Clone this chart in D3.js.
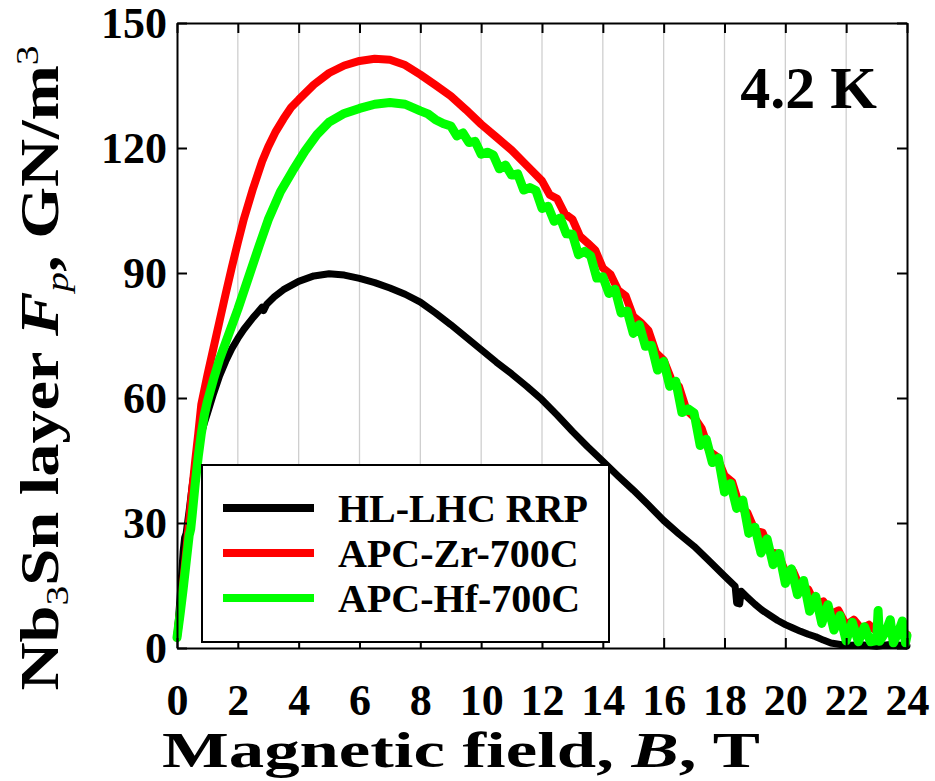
<!DOCTYPE html>
<html>
<head>
<meta charset="utf-8">
<script src="https://cdn.jsdelivr.net/npm/d3@7"></script>
<style>
  html, body { margin: 0; padding: 0; background: #fff; }
  svg { display: block; }
  text { font-family: "Liberation Serif", "Times New Roman", serif; font-weight: bold; fill: #000; }
</style>
</head>
<body>
<svg id="chart" width="935" height="781"></svg>
<script>
// Pinning-force curves at 4.2 K: field B (T) and layer pinning force Fp (GN/m^3)
const rrpField = [0, 0.1, 0.2, 0.25, 0.3, 0.4, 0.5, 0.6, 0.7, 0.8, 0.9, 1.0, 1.2, 1.4, 1.6, 1.8, 2.0, 2.2, 2.5, 2.8, 2.85, 2.95, 3.2, 3.5, 4.0, 4.5, 5.0, 5.5, 6.0, 6.5, 7.0, 7.5, 8.0, 8.5, 9.0, 9.5, 10.0, 10.5, 11.0, 11.5, 12.0, 12.5, 13.0, 13.5, 14.0, 14.5, 15.0, 15.5, 16.0, 16.5, 17.0, 17.5, 18.0, 18.35, 18.4, 18.5, 18.55, 18.75, 19.0, 19.25, 19.5, 19.75, 20.0, 20.25, 20.5, 20.75, 21.0, 21.25, 21.5, 22.0, 22.5, 23.0, 23.5, 24.0];
const rrpFp = [2.5, 12, 23, 26.5, 27.5, 33, 39, 44, 48, 51.5, 54, 56.3, 61, 65.3, 68.8, 71.8, 74.3, 76.5, 79.3, 81.8, 81.0, 82.5, 84.3, 86, 88, 89.3, 89.8, 89.5, 88.7, 87.7, 86.4, 84.9, 83.0, 80.4, 77.6, 74.6, 71.6, 68.6, 65.8, 62.8, 59.6, 55.9, 52.0, 48.3, 44.8, 41.3, 37.9, 34.3, 30.6, 27.4, 24.4, 20.9, 17.3, 14.8, 10.8, 10.6, 13.6, 12.2, 10.5, 9.0, 7.8, 6.6, 5.6, 4.8, 4.0, 3.3, 2.7, 1.9, 1.2, 0.6, 0.8, 0.4, 0.9, 0.5];

const zrField = [0, 0.1, 0.2, 0.3, 0.4, 0.5, 0.6, 0.7, 0.8, 1.0, 1.2, 1.4, 1.6, 1.8, 2.0, 2.2, 2.5, 2.8, 3.0, 3.25, 3.5, 3.75, 4.0, 4.5, 5.0, 5.5, 6.0, 6.5, 7.0, 7.5, 8.0, 8.5, 9.0, 9.5, 10.0, 10.5, 11.0, 11.5, 12.0, 12.25, 12.5, 12.75, 13.0, 13.25, 13.5, 13.75, 14.0, 14.25, 14.5, 14.75, 15.0, 15.25, 15.5, 15.75, 16.0, 16.25, 16.5, 16.75, 17.0, 17.25, 17.5, 17.75, 18.0, 18.25, 18.5, 18.75, 19.0, 19.25, 19.5, 19.75, 20.0, 20.25, 20.5, 20.75, 21.0, 21.25, 21.5, 21.75, 22.0, 22.25, 22.5, 22.75, 23.0, 23.5, 24.0];
const zrFp = [2.5, 8.5, 15.5, 23, 30.5, 38, 45, 51.5, 58.5, 65.5, 72, 78.5, 85, 91.3, 97.3, 103, 110.3, 116.8, 120.3, 124, 127, 129.7, 131.6, 135.2, 138, 139.8, 140.9, 141.4, 141.2, 139.9, 137.6, 135.1, 132.5, 129.2, 125.7, 122.6, 119.5, 115.8, 112.1, 108.8, 107.8, 104.2, 102.9, 98.8, 97.2, 95.5, 91.2, 89.7, 85.9, 84.5, 79.6, 78.1, 76.2, 70.8, 69.1, 64.5, 62.8, 57.1, 55.4, 52.7, 47.2, 45.9, 41.4, 39.9, 34.0, 32.5, 28.2, 27.7, 23.1, 22.6, 18.4, 18.5, 14.3, 14.1, 10.3, 11.2, 8.2, 9.0, 5.5, 6.8, 4.6, 5.6, 4.0, 4.4, 3.2];

const hfField = [0, 0.1, 0.2, 0.3, 0.4, 0.45, 0.5, 0.6, 0.7, 0.8, 0.9, 1.0, 1.2, 1.4, 1.7, 2.0, 2.4, 2.7, 3.0, 3.4, 3.8, 4.2, 4.6, 5.0, 5.5, 6.0, 6.5, 7.0, 7.5, 8.0, 8.25, 8.5, 8.75,
  9.0, 9.2, 9.4, 9.6, 9.8, 10.0, 10.2, 10.4, 10.6, 10.8, 11.0, 11.2, 11.4, 11.6, 11.8, 12.0, 12.2, 12.4, 12.6, 12.8, 13.0, 13.2, 13.4, 13.6, 13.8, 14.0, 14.2, 14.4, 14.6, 14.8, 15.0, 15.2, 15.4, 15.6, 15.8, 16.0, 16.2, 16.4, 16.6, 16.8, 17.0, 17.2, 17.4, 17.6, 17.8, 18.0, 18.2, 18.4, 18.6, 18.8, 19.0, 19.2, 19.4, 19.6, 19.8, 20.0, 20.2, 20.4, 20.6, 20.8, 21.0, 21.2, 21.4, 21.6, 21.8, 22.0, 22.2, 22.4, 22.6, 22.8, 23.0, 23.05, 23.1, 23.3, 23.45, 23.55, 23.7, 23.85, 23.95, 24.0];
const hfFp = [2.5, 8, 14, 20.5, 27, 28.5, 32, 39.5, 46, 51.5, 56, 59.2, 64.5, 69.3, 75.3, 81.3, 90, 96.5, 102.8, 109.5, 114.5, 119.2, 123.2, 126.2, 128.3, 129.5, 130.5, 130.9, 130.5, 128.9, 128.2, 126.8, 125.9,
  125.3, 122.9, 123.6, 121.3, 121.6, 118.5, 119.0, 118.3, 115.0, 115.9, 113.5, 113.8, 109.9, 110.5, 109.8, 105.5, 106.0, 102.4, 103.2, 99.4, 99.3, 94.4, 95.2, 94.1, 88.8, 89.1, 85.1, 86.1, 80.4, 80.9, 75.5, 77.6, 72.4, 72.6, 66.7, 68.8, 62.8, 64.0, 56.5, 57.4, 56.4, 48.6, 50.1, 44.5, 45.6, 37.4, 39.5, 33.5, 35.5, 27.5, 29.0, 22.8, 26.2, 20.0, 22.7, 15.5, 19.0, 12.8, 16.2, 8.8, 12.4, 5.9, 10.4, 4.3, 7.8, 1.7, 6.2, 1.5, 5.1, 1.5, 1.8, 9.0, 1.6, 3.9, 6.8, 1.2, 3.5, 6.5, 1.2, 3.0];

const seriesNames = ["HL-LHC RRP", "APC-Zr-700C", "APC-Hf-700C"];
const seriesColors = ["#000000", "#ff0000", "#00ff00"];
const seriesWidths = [7, 8, 9];

const fieldTicks = [0, 2, 4, 6, 8, 10, 12, 14, 16, 18, 20, 22, 24];
const forceTicks = [0, 30, 60, 90, 120, 150];
const tempLabel = "4.2 K";

const svg = d3.select("#chart");
const plot = { left: 177, right: 907, top: 23, bottom: 648 };

const x = d3.scaleLinear().domain([0, 24]).range([plot.left, plot.right]);
const y = d3.scaleLinear().domain([0, 150]).range([plot.bottom, plot.top]);

// vertical grid lines
svg.append("g")
  .selectAll("line")
  .data(fieldTicks.filter(d => d > 0 && d < 24))
  .join("line")
  .attr("x1", d => x(d)).attr("x2", d => x(d))
  .attr("y1", plot.top).attr("y2", plot.bottom)
  .attr("stroke", "#cfcfcf").attr("stroke-width", 1.3);

// curves
const series = [
  rrpField.map((b, i) => [b, rrpFp[i]]),
  zrField.map((b, i) => [b, zrFp[i]]),
  hfField.map((b, i) => [b, hfFp[i]])
];
const line = d3.line().x(d => x(d[0])).y(d => y(d[1]));
svg.append("g")
  .selectAll("path")
  .data(series)
  .join("path")
  .attr("d", line)
  .attr("fill", "none")
  .attr("stroke", (d, i) => seriesColors[i])
  .attr("stroke-width", (d, i) => seriesWidths[i])
  .attr("stroke-linejoin", "round")
  .attr("stroke-linecap", "round");

// axes with inward ticks on all four sides
function styleAxis(g) {
  g.attr("font-size", null).attr("font-family", null);
  g.selectAll(".domain").attr("stroke", "#000").attr("stroke-width", 2);
  g.selectAll(".tick line").attr("stroke", "#000").attr("stroke-width", 2);
  g.selectAll(".tick text")
    .style("font-family", '"Liberation Serif", "Times New Roman", serif')
    .style("font-weight", "bold")
    .style("font-size", "44px")
    .attr("fill", "#000");
}

svg.append("g")
  .attr("transform", `translate(0,${plot.bottom})`)
  .call(d3.axisBottom(x).tickValues(fieldTicks).tickSizeInner(-10).tickSizeOuter(0).tickPadding(36).tickFormat(d3.format("d")))
  .call(styleAxis);

svg.append("g")
  .attr("transform", `translate(0,${plot.top})`)
  .call(d3.axisTop(x).tickValues(fieldTicks).tickSizeInner(-10).tickSizeOuter(0).tickFormat(""))
  .call(styleAxis);

svg.append("g")
  .attr("transform", `translate(${plot.left},0)`)
  .call(d3.axisLeft(y).tickValues(forceTicks).tickSizeInner(-10).tickSizeOuter(0).tickPadding(10).tickFormat(d3.format("d")))
  .call(styleAxis);

svg.append("g")
  .attr("transform", `translate(${plot.right},0)`)
  .call(d3.axisRight(y).tickValues(forceTicks).tickSizeInner(-10).tickSizeOuter(0).tickFormat(""))
  .call(styleAxis);

// temperature label
svg.append("text")
  .attr("x", 877).attr("y", 108)
  .attr("text-anchor", "end")
  .style("font-size", "60px")
  .text(tempLabel);

// legend
const legend = svg.append("g");
legend.append("rect")
  .attr("x", 202).attr("y", 465)
  .attr("width", 407).attr("height", 177)
  .attr("fill", "#fff").attr("stroke", "#000").attr("stroke-width", 2);
const rows = legend.selectAll("g.row")
  .data(seriesNames)
  .join("g")
  .attr("class", "row")
  .attr("transform", (d, i) => `translate(0,${508 + i * 45})`);
rows.append("line")
  .attr("x1", 223).attr("x2", 314)
  .attr("stroke", (d, i) => seriesColors[i])
  .attr("stroke-width", 8);
rows.append("text")
  .attr("x", 338).attr("y", 14)
  .style("font-size", "40px")
  .text(d => d);

// axis titles, drawn wide along their reading direction
function stretchTo(sel, target, base) {
  const w = sel.node().getBBox().width;
  sel.attr("transform", `${base} scale(${target / w},1)`);
}

const xTitle = svg.append("text")
  .attr("text-anchor", "middle")
  .style("font-size", "50px");
xTitle.append("tspan").text("Magnetic field, ");
xTitle.append("tspan").style("font-style", "italic").text("B");
xTitle.append("tspan").text(", T");
stretchTo(xTitle, 598, "translate(461,767)");

const yTitle = svg.append("text")
  .attr("text-anchor", "middle")
  .style("font-size", "54px");
yTitle.append("tspan").text("Nb");
yTitle.append("tspan").attr("dy", 10).style("font-size", "32px").style("font-weight", "normal").text("3");
yTitle.append("tspan").attr("dy", -10).text("Sn layer ");
yTitle.append("tspan").style("font-style", "italic").text("F");
yTitle.append("tspan").attr("dy", 10).style("font-size", "32px").style("font-style", "italic").style("font-weight", "normal").text("p");
yTitle.append("tspan").attr("dy", -10).text(", GN/m");
yTitle.append("tspan").attr("dy", -20).style("font-size", "32px").style("font-weight", "normal").text("3");
stretchTo(yTitle, 645, "translate(58,368) rotate(-90)");
</script>
</body>
</html>
